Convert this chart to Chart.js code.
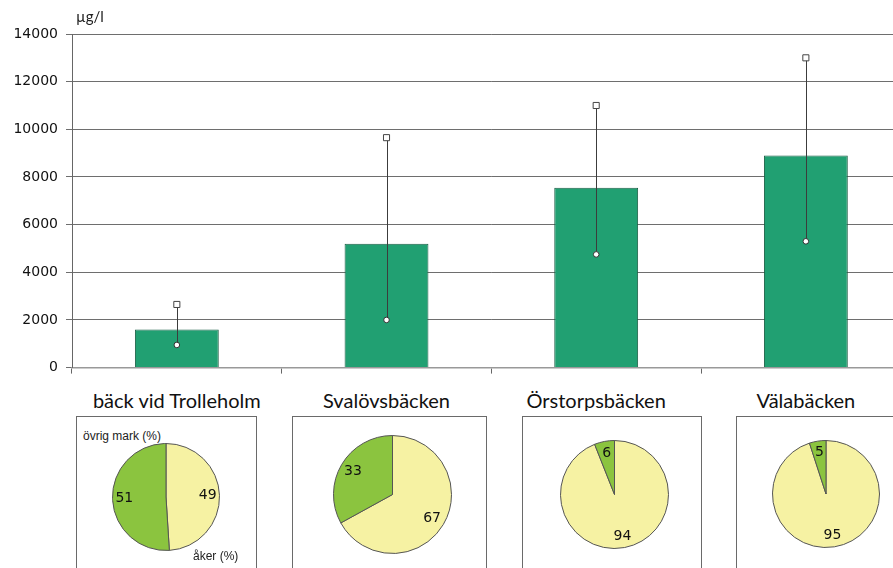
<!DOCTYPE html>
<html>
<head>
<meta charset="utf-8">
<script src="https://cdn.jsdelivr.net/npm/chart.js@4/dist/chart.umd.min.js"></script>
<style>
  html, body { margin: 0; padding: 0; background: #fff; width: 893px; height: 568px; overflow: hidden; position: relative; }
  #barWrap { position: absolute; left: 0; top: 0; }
  .box { position: absolute; top: 416px; height: 180px; border: 1.5px solid #6a6a6a; box-sizing: border-box; }
  .title { position: absolute; top: 388px; font: 20px Lato, "DejaVu Sans", sans-serif; color: #111; white-space: nowrap; transform: translateX(-50%); }
  .pie { position: absolute; }
  .note { position: absolute; font: 12px "Liberation Sans", sans-serif; color: #222; white-space: nowrap; }
</style>
</head>
<body>
<div id="barWrap"><canvas id="bars" width="916" height="384"></canvas></div>

<div class="box" style="left:76px; width:181px;"></div>
<div class="box" style="left:292px; width:195px;"></div>
<div class="box" style="left:522px; width:180px;"></div>
<div class="box" style="left:736px; width:180px;"></div>

<div id="titles"></div>
<div id="pies"></div>
<div id="notes"></div>

<script>
// Stations along the x axis
const stations = ['bäck vid Trolleholm', 'Svalövsbäcken', 'Örstorpsbäcken', 'Välabäcken'];

// Concentrations, µg/l
const meanValues = [1600, 5200, 7550, 8900];
const maxValues  = [2650, 9650, 11000, 13000];
const minValues  = [950, 2000, 4750, 5300];

// Y axis ticks
const yTickValues = [0, 2000, 4000, 6000, 8000, 10000, 12000, 14000];
const unitLabel = 'µg/l';

// Land use shares per catchment, %
const shareLabels = ['åker (%)', 'övrig mark (%)'];
const akerShare  = [49, 67, 94, 95];
const ovrigShare = [51, 33, 6, 5];

// Pie placement (centre x, centre y, radius) in page pixels
const pieGeom = [
  [166, 497, 53],
  [392, 494, 58.5],
  [614, 494, 53.5],
  [825.5, 494, 53]
];

const BAR_GREEN = '#21a072';
const PIE_YELLOW = '#f6f2a3';
const PIE_GREEN = '#8bc43f';

// Vertical min–max lines plus the unit text
const rangeLines = {
  id: 'rangeLines',
  afterDatasetDraw(chart, args) {
    if (args.index !== 0) return;
    const { ctx, scales: { x, y } } = chart;
    ctx.save();
    ctx.strokeStyle = '#3c3c3c';
    ctx.lineWidth = 1;
    stations.forEach((s, i) => {
      const px = Math.round(x.getPixelForValue(i)) + 0.5;
      ctx.beginPath();
      ctx.moveTo(px, y.getPixelForValue(minValues[i]));
      ctx.lineTo(px, y.getPixelForValue(maxValues[i]));
      ctx.stroke();
    });
    ctx.restore();
  },
  afterDraw(chart) {
    const { ctx, chartArea } = chart;
    ctx.save();
    ctx.fillStyle = '#222';
    ctx.font = '15px Lato, "DejaVu Sans", sans-serif';
    ctx.textBaseline = 'alphabetic';
    ctx.fillText(unitLabel, chartArea.left + 4, chartArea.top - 12);
    ctx.restore();
  }
};

const barChart = new Chart(document.getElementById('bars'), {
  type: 'bar',
  data: {
    labels: stations,
    datasets: [
      {
        type: 'bar',
        data: meanValues,
        backgroundColor: BAR_GREEN,
        borderColor: '#1b5e45',
        borderWidth: 1,
        barPercentage: 0.4,
        categoryPercentage: 1,
        order: 3
      },
      {
        type: 'line',
        data: maxValues,
        showLine: false,
        pointStyle: 'rect',
        pointRadius: 4.3,
        pointBackgroundColor: '#fff',
        pointBorderColor: '#444',
        pointBorderWidth: 1,
        order: 1
      },
      {
        type: 'line',
        data: minValues,
        showLine: false,
        pointStyle: 'circle',
        pointRadius: 2.8,
        pointBackgroundColor: '#fff',
        pointBorderColor: '#333',
        pointBorderWidth: 1,
        order: 2
      }
    ]
  },
  options: {
    responsive: false,
    animation: false,
    events: [],
    layout: { padding: { top: 34, left: 0, right: 0, bottom: 0 } },
    plugins: { legend: { display: false }, tooltip: { enabled: false } },
    scales: {
      x: {
        offset: true,
        grid: { offset: true, drawOnChartArea: false, drawTicks: true, tickLength: 6, color: '#666' },
        border: { color: '#999', width: 1.5 },
        ticks: { display: false },
        afterFit(s) { s.height = 13; }
      },
      y: {
        min: 0,
        max: 14000,
        afterBuildTicks(s) { s.ticks = yTickValues.map(v => ({ value: v })); },
        ticks: {
          color: '#111',
          padding: 8,
          font: { family: '"DejaVu Sans", sans-serif', size: 14 },
          callback: v => String(v)
        },
        grid: { color: '#6e6e6e', lineWidth: 1, tickLength: 6 },
        border: { color: '#666', width: 1 },
        afterFit(s) { s.width = 72; }
      }
    }
  },
  plugins: [rangeLines]
});

// Station titles centred over their bars
const titleHost = document.getElementById('titles');
stations.forEach((name, i) => {
  const d = document.createElement('div');
  d.className = 'title';
  d.textContent = name;
  d.style.left = barChart.scales.x.getPixelForValue(i) + 'px';
  titleHost.appendChild(d);
});

// Percent labels inside each slice
const sliceLabels = {
  id: 'sliceLabels',
  afterDatasetsDraw(chart) {
    const { ctx } = chart;
    const meta = chart.getDatasetMeta(0);
    const values = chart.data.datasets[0].data;
    ctx.save();
    ctx.fillStyle = '#111';
    ctx.font = '14px "DejaVu Sans", sans-serif';
    ctx.textAlign = 'center';
    ctx.textBaseline = 'middle';
    meta.data.forEach((arc, k) => {
      const p = arc.getProps(['x', 'y', 'startAngle', 'endAngle', 'outerRadius'], true);
      const mid = (p.startAngle + p.endAngle) / 2;
      const r = p.outerRadius * 0.78;
      ctx.fillText(String(values[k]), p.x + Math.cos(mid) * r, p.y + Math.sin(mid) * r);
    });
    ctx.restore();
  }
};

const pieHost = document.getElementById('pies');
stations.forEach((name, i) => {
  const [cx, cy, r] = pieGeom[i];
  const size = Math.round(2 * r + 2);
  const wrap = document.createElement('div');
  wrap.className = 'pie';
  wrap.style.left = (cx - size / 2) + 'px';
  wrap.style.top = (cy - size / 2) + 'px';
  const cv = document.createElement('canvas');
  cv.width = size;
  cv.height = size;
  wrap.appendChild(cv);
  pieHost.appendChild(wrap);
  new Chart(cv, {
    type: 'pie',
    data: {
      labels: shareLabels,
      datasets: [{
        data: [akerShare[i], ovrigShare[i]],
        backgroundColor: [PIE_YELLOW, PIE_GREEN],
        borderColor: '#555',
        borderWidth: 1
      }]
    },
    options: {
      responsive: false,
      animation: false,
      events: [],
      layout: { padding: 0 },
      plugins: { legend: { display: false }, tooltip: { enabled: false } }
    },
    plugins: [sliceLabels]
  });
});

// Series names written beside the first pie
const noteHost = document.getElementById('notes');
[[shareLabels[1], 83, 429], [shareLabels[0], 193, 549]].forEach(([txt, l, t]) => {
  const d = document.createElement('div');
  d.className = 'note';
  d.textContent = txt;
  d.style.left = l + 'px';
  d.style.top = t + 'px';
  noteHost.appendChild(d);
});
</script>
</body>
</html>
